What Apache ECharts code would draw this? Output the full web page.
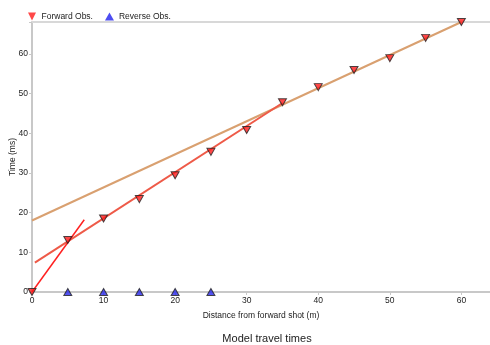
<!DOCTYPE html>
<html><head><meta charset="utf-8">
<script src="https://cdn.jsdelivr.net/npm/echarts@6/dist/echarts.min.js"></script>
<style>html,body{margin:0;padding:0;background:#fff}#c{width:490px;height:345px}</style>
</head><body><div id="c"></div>
<script>
const forwardX = [0,5,10,15,20,25,30,35,40,45,50,55,60];
const forwardY = [0,13.1,18.5,23.4,29.4,35.3,40.8,47.8,51.6,55.9,58.9,64,68];
const reverseX = [5,10,15,20,25];
const reverseY = [0,0,0,0,0];
const fitDirect = [[0,0],[7.3,18.2]];
const fitLayer2 = [[0.4,7.4],[35,47.6]];
const fitLayer3 = [[0,18],[60,68]];
const xTicks = [0,10,20,30,40,50,60];
const yTicks = [0,10,20,30,40,50,60];

const chart = echarts.init(document.getElementById('c'));
const font = 'Liberation Sans, Arial, sans-serif';
chart.setOption({
  animation:false,
  title:{text:'Model travel times', left:262, top:328, textAlign:'center',
    textStyle:{fontSize:11, fontWeight:'normal', color:'#222', fontFamily:font}},
  legend:{left:23, top:7, itemWidth:9, itemHeight:8, itemGap:12,
    textStyle:{fontSize:8.5, color:'#222', fontFamily:font},
    data:[{name:'Forward Obs.', icon:'path://M0,0L10,0L5,10Z', itemStyle:{color:'#ff1a1a', borderWidth:0}},
          {name:'Reverse Obs.', icon:'triangle', itemStyle:{color:'#2020ee', borderWidth:0}}]},
  grid:{left:32, right:0, top:22, bottom:53, outerBoundsMode:'none', containLabel:false},
  xAxis:[{type:'value', min:0, max:64, interval:10, position:'bottom',
    name:'Distance from forward shot (m)', nameLocation:'middle', nameGap:19, nameMoveOverlap:false,
    nameTextStyle:{fontSize:8.5, color:'#222', fontFamily:font},
    axisLine:{show:true, lineStyle:{color:'#c8c8c8', width:2}},
    axisTick:{show:true, length:3, lineStyle:{color:'#c8c8c8'}},
    axisLabel:{fontSize:8.5, color:'#222', fontFamily:font, margin:4,
      formatter:v=>xTicks.includes(v)?String(v):''},
    splitLine:{show:false}},
   {type:'value', min:0, max:64, position:'top', axisLine:{show:true, lineStyle:{color:'#d8d8d8', width:2}},
    axisTick:{show:false}, axisLabel:{show:false}, splitLine:{show:false}}],
  yAxis:{type:'value', min:0, max:68, interval:10,
    name:'Time (ms)', nameLocation:'middle', nameGap:15, nameMoveOverlap:false,
    nameTextStyle:{fontSize:8.5, color:'#222', fontFamily:font},
    axisLine:{show:true, lineStyle:{color:'#c8c8c8', width:2}},
    axisTick:{show:true, length:3, lineStyle:{color:'#c8c8c8'}},
    axisLabel:{fontSize:8.5, color:'#222', fontFamily:font, margin:4,
      formatter:v=>yTicks.includes(v)?String(v):''},
    splitLine:{show:false}},
  series:[
    {type:'line', data:fitLayer3, symbol:'none', lineStyle:{color:'#d9a070', width:2}, silent:true, z:2},
    {type:'line', data:fitLayer2, symbol:'none', lineStyle:{color:'#ee5a48', width:2}, silent:true, z:2},
    {type:'line', data:fitDirect, symbol:'none', lineStyle:{color:'#ff2020', width:1.5}, silent:true, z:2},
    {name:'Forward Obs.', type:'scatter', data:forwardX.map((x,i)=>[x,forwardY[i]]),
      symbol:'triangle', symbolRotate:180, symbolSize:[8,7],
      itemStyle:{color:'#ff1a1a', borderColor:'#222', borderWidth:1}, z:5},
    {name:'Reverse Obs.', type:'scatter', data:reverseX.map((x,i)=>[x,reverseY[i]]),
      symbol:'triangle', symbolSize:[8,7],
      itemStyle:{color:'#2828ee', borderColor:'#222', borderWidth:1}, z:5}
  ]
});
</script></body></html>
